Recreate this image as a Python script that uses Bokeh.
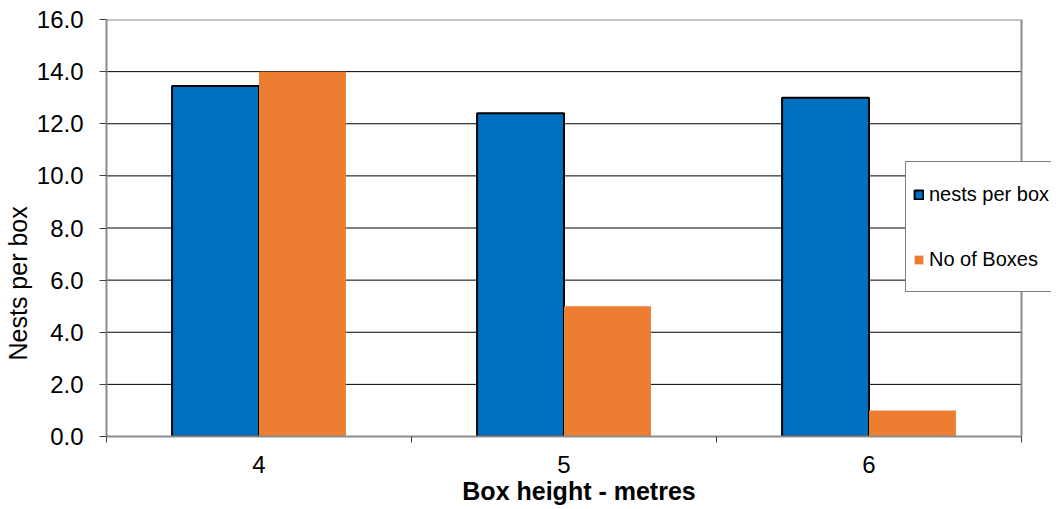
from bokeh.plotting import figure
from bokeh.models import (Range1d, FixedTicker, Legend, LegendItem, Title,
                          ColumnDataSource, NumeralTickFormatter)
from bokeh.embed import file_html
from bokeh.resources import INLINE

categories = ["4", "5", "6"]
nests_per_box = [13.45, 12.4, 13.0]
no_of_boxes = [14, 5, 1]
y_ticks = [0, 2, 4, 6, 8, 10, 12, 14, 16]

BLUE = "#0070C0"
ORANGE = "#ED7D31"
BORDER = "#8c8c8c"
FONT = "Liberation Sans"
bar_w = 0.285

n = len(categories)
idx = list(range(n))
src = ColumnDataSource(dict(
    xb=[i + 0.5 - bar_w / 2 for i in idx],
    xo=[i + 0.5 + bar_w / 2 for i in idx],
    nests=nests_per_box,
    boxes=no_of_boxes,
))

# frame runs past the plot area on the right so the legend can overhang it
plot_w, frame_w = 915, 945
p = figure(frame_width=frame_w, frame_height=417, output_backend="svg",
           toolbar_location=None,
           x_range=Range1d(0, n * frame_w / plot_w), y_range=Range1d(0, 16))
p.min_border_left = 105
p.min_border_right = 0
p.min_border_top = 19
p.min_border_bottom = 0
p.outline_line_color = None
p.background_fill_color = "white"
p.border_fill_color = "white"

# grid lines and plot-area border drawn only over the category span
inner = [t for t in y_ticks if 0 < t < y_ticks[-1]]
p.segment(x0=[0] * len(inner), x1=[n] * len(inner), y0=inner, y1=inner,
          line_color="black", line_width=1, level="underlay")
p.segment(x0=[0, n], x1=[n, n], y0=[y_ticks[-1], 0],
          y1=[y_ticks[-1], y_ticks[-1]], line_color=BORDER, line_width=2)

rb = p.vbar(x="xb", width=bar_w, top="nests", bottom=0, source=src,
            fill_color=BLUE, line_color="black", line_width=2)
ro = p.vbar(x="xo", width=bar_w, top="boxes", bottom=0, source=src,
            fill_color=ORANGE, line_color=None)

# x axis
p.xaxis.bounds = (0, n)
p.xaxis.ticker = FixedTicker(ticks=[i + 0.5 for i in idx],
                             minor_ticks=list(range(n + 1)))
p.xaxis.major_label_overrides = {i + 0.5: c for i, c in zip(idx, categories)}
p.xaxis.major_tick_line_color = None
p.xaxis.major_tick_out = 6
p.xaxis.minor_tick_out = 6
p.xaxis.minor_tick_in = 0
p.xaxis.minor_tick_line_color = "#404040"
p.xaxis.axis_line_color = BORDER
p.xaxis.axis_line_width = 2
p.xaxis.major_label_text_font = FONT
p.xaxis.major_label_text_font_size = "24px"
p.xaxis.major_label_text_color = "black"
p.xaxis.major_label_standoff = 13
p.xaxis.axis_label = "Box height - metres"
p.xaxis.axis_label_text_font = FONT
p.xaxis.axis_label_text_font_style = "bold"
p.xaxis.axis_label_text_font_size = "25px"
p.xaxis.axis_label_text_color = "black"
p.xaxis.axis_label_standoff = 1
p.xgrid.grid_line_color = None
p.ygrid.grid_line_color = None

# y axis
p.yaxis.ticker = FixedTicker(ticks=y_ticks, minor_ticks=[])
p.yaxis.formatter = NumeralTickFormatter(format="0.0")
p.yaxis.major_tick_out = 7
p.yaxis.major_tick_in = 0
p.yaxis.major_tick_line_color = "#404040"
p.yaxis.axis_line_color = BORDER
p.yaxis.axis_line_width = 2
p.yaxis.major_label_text_font = FONT
p.yaxis.major_label_text_font_size = "24px"
p.yaxis.major_label_text_color = "black"
p.yaxis.major_label_standoff = 16

ytitle = Title(text="Nests per box", align="left", offset=76,
               text_font=FONT, text_font_size="25px", text_font_style="normal",
               text_color="black", standoff=3)
p.add_layout(ytitle, "left")

legend = Legend(items=[LegendItem(label="nests per box", renderers=[rb]),
                       LegendItem(label="No of Boxes", renderers=[ro])],
                location=(799, 144))
legend.label_text_font = FONT
legend.label_text_font_size = "20px"
legend.label_text_color = "black"
legend.label_height = 50
legend.glyph_height = 11
legend.glyph_width = 11
legend.label_standoff = 5
legend.spacing = 15
legend.padding = 7
legend.margin = 0
legend.border_line_color = "black"
legend.border_line_width = 1
legend.background_fill_color = "white"
legend.background_fill_alpha = 1
p.add_layout(legend, "center")

open("out.html", "w").write(file_html(p, INLINE))
